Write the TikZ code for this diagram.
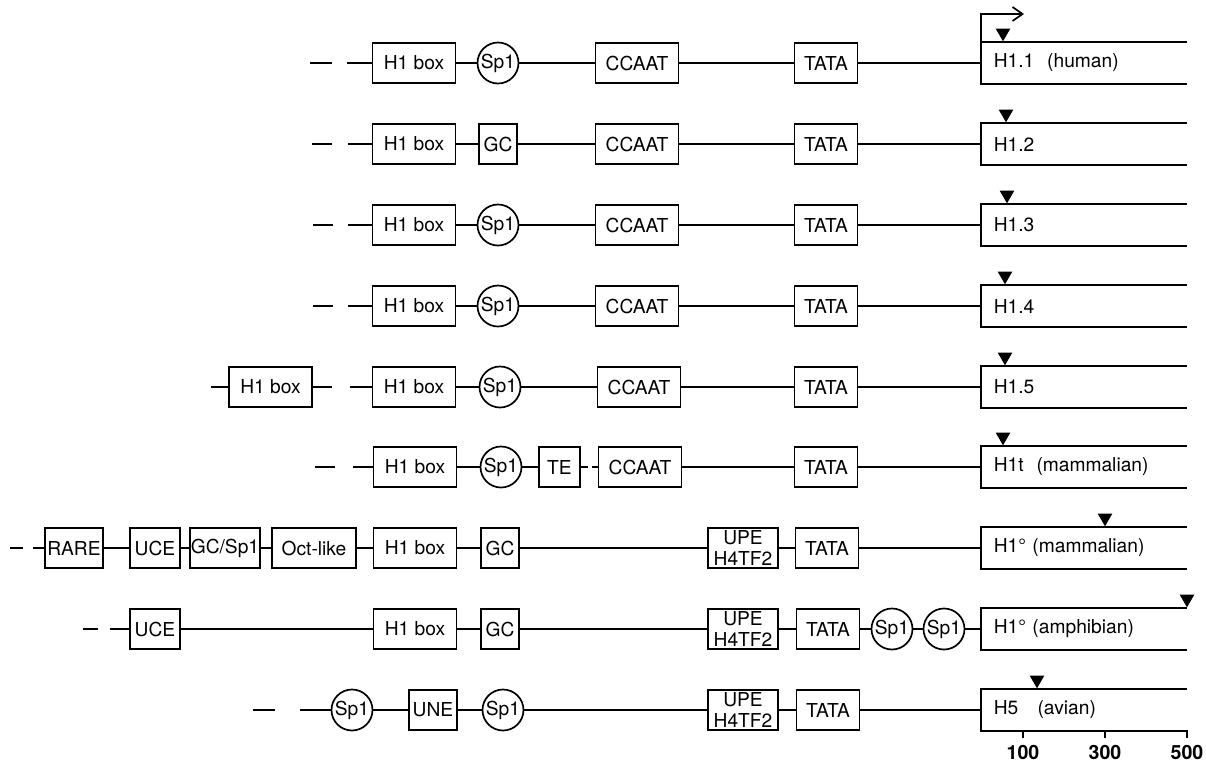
\documentclass[tikz,border=0pt]{standalone}
\usepackage{fontspec}
\setmainfont{TeX Gyre Heros}
\usetikzlibrary{arrows.meta}
\usetikzlibrary{shapes.geometric}

\begin{document}
\begin{tikzpicture}[x=0.5pt,y=-0.5pt,line width=0.85pt,font=\fontsize{9.6}{10.6}\selectfont]
  \tikzstyle{elem}=[draw,minimum height=20pt,inner sep=1pt,align=center]
  \tikzstyle{wide}=[elem,minimum width=41.5pt]
  \tikzstyle{tata}=[elem,minimum width=31.5pt]
  \tikzstyle{narrow}=[elem,minimum width=19pt]
  \tikzstyle{site}=[draw,circle,minimum size=20.5pt,inner sep=0pt]
  \tikzstyle{gene}=[anchor=west,minimum height=20pt,text width=90pt,inner xsep=6pt,align=left]
  \tikzstyle{startmark}=[fill,regular polygon,regular polygon sides=3,shape border rotate=180,minimum size=8.4pt,inner sep=0pt,anchor=corner 1]
  \tikzstyle{num}=[below,inner sep=3pt,font=\fontsize{9.8}{11}\selectfont\bfseries]
  \useasboundingbox (0,0) rectangle (1206,761);

  % H1.1
  \coordinate (d1a) at (310,63); \coordinate (d1b) at (332,63); \coordinate (d1c) at (347,63);
  \node[wide] (h1) at (414,63) {H1 box};
  \node[site] (sp1) at (498,63) {Sp1};
  \node[wide] (cc1) at (637,63) {CCAAT};
  \node[tata] (ta1) at (826,63) {TATA};
  \node[gene] (g1) at (981,63) {H1.1\ \ (human)};
  \draw (d1a) -- (d1b) (d1c) -- (h1) -- (sp1) -- (cc1) -- (ta1) -- (g1);

  % H1.2
  \coordinate (d2a) at (312,144); \coordinate (d2b) at (332,144); \coordinate (d2c) at (348,144);
  \node[wide] (h2) at (414,144) {H1 box};
  \node[narrow] (gc2) at (498,144) {GC};
  \node[wide] (cc2) at (637,144) {CCAAT};
  \node[tata] (ta2) at (826,144) {TATA};
  \node[gene] (g2) at (981,144) {H1.2};
  \draw (d2a) -- (d2b) (d2c) -- (h2) -- (gc2) -- (cc2) -- (ta2) -- (g2);

  % H1.3
  \coordinate (d3a) at (313,225); \coordinate (d3b) at (333,225); \coordinate (d3c) at (348,225);
  \node[wide] (h3) at (414,225) {H1 box};
  \node[site] (sp3) at (498,225) {Sp1};
  \node[wide] (cc3) at (637,225) {CCAAT};
  \node[tata] (ta3) at (826,225) {TATA};
  \node[gene] (g3) at (981,225) {H1.3};
  \draw (d3a) -- (d3b) (d3c) -- (h3) -- (sp3) -- (cc3) -- (ta3) -- (g3);

  % H1.4
  \coordinate (d4a) at (313,306); \coordinate (d4b) at (333,306); \coordinate (d4c) at (348,306);
  \node[wide] (h4) at (414,306) {H1 box};
  \node[site] (sp4) at (498,306) {Sp1};
  \node[wide] (cc4) at (637,306) {CCAAT};
  \node[tata] (ta4) at (826,306) {TATA};
  \node[gene] (g4) at (981,306) {H1.4};
  \draw (d4a) -- (d4b) (d4c) -- (h4) -- (sp4) -- (cc4) -- (ta4) -- (g4);

  % H1.5
  \coordinate (d5a) at (211,387); \coordinate (d5b) at (332,387); \coordinate (d5c) at (350,387);
  \node[wide] (h5x) at (270.5,387) {H1 box};
  \node[wide] (h5) at (414,387) {H1 box};
  \node[site] (sp5) at (500,387) {Sp1};
  \node[wide] (cc5) at (639,387) {CCAAT};
  \node[tata] (ta5) at (826,387) {TATA};
  \node[gene] (g5) at (981,387) {H1.5};
  \draw (d5a) -- (h5x) -- (d5b) (d5c) -- (h5) -- (sp5) -- (cc5) -- (ta5) -- (g5);

  % H1t
  \coordinate (d6a) at (315,467); \coordinate (d6b) at (335,467); \coordinate (d6c) at (353,467);
  \node[wide] (h6) at (415,467) {H1 box};
  \node[site] (sp6) at (501,467) {Sp1};
  \node[elem,minimum width=20.5pt] (te6) at (559.5,467) {TE};
  \node[wide] (cc6) at (640,467) {CCAAT};
  \node[tata] (ta6) at (826,467) {TATA};
  \node[gene] (g6) at (981,467) {H1t\ \ (mammalian)};
  \draw (d6a) -- (d6b) (d6c) -- (h6) -- (sp6) -- (te6) (cc6) -- (ta6) -- (g6);
  \draw[dash pattern=on 3.5pt off 2pt] (te6) -- (cc6);

  % H1 zero, mammalian
  \coordinate (d7a) at (10,548); \coordinate (d7b) at (23,548); \coordinate (d7c) at (33,548);
  \node[elem,minimum width=29pt] (ra7) at (74,548) {RARE};
  \node[elem,minimum width=25pt] (uc7) at (155,548) {UCE};
  \node[elem,minimum width=34pt,inner xsep=0.5pt] (gs7) at (225,548) {GC/Sp1};
  \node[elem,minimum width=42pt] (oc7) at (314,548) {Oct-like};
  \node[wide] (h7) at (415,548) {H1 box};
  \node[narrow] (gc7) at (500,548) {GC};
  \node[elem,minimum width=35pt] (up7) at (743,548) {UPE\\H4TF2};
  \node[tata] (ta7) at (827,548) {TATA};
  \node[gene] (g7) at (981,548) {H1° (mammalian)};
  \draw (d7a) -- (d7b) (d7c) -- (ra7) -- (uc7) -- (gs7) -- (oc7) -- (h7) -- (gc7) -- (up7) -- (ta7) -- (g7);

  % H1 zero, amphibian
  \coordinate (d8a) at (83,629); \coordinate (d8b) at (98,629); \coordinate (d8c) at (110,629);
  \node[elem,minimum width=25pt] (uc8) at (155,629) {UCE};
  \node[wide] (h8) at (415,629) {H1 box};
  \node[narrow] (gc8) at (500,629) {GC};
  \node[elem,minimum width=35pt] (up8) at (743,629) {UPE\\H4TF2};
  \node[tata] (ta8) at (828,629) {TATA};
  \node[site] (sp8a) at (892,629) {Sp1};
  \node[site] (sp8b) at (944,629) {Sp1};
  \node[gene] (g8) at (981,629) {H1° (amphibian)};
  \draw (d8a) -- (d8b) (d8c) -- (uc8) -- (h8) -- (gc8) -- (up8) -- (ta8) -- (sp8a) -- (sp8b) -- (g8);

  % H5
  \coordinate (d9a) at (253,710); \coordinate (d9b) at (275,710); \coordinate (d9c) at (300,710);
  \node[site] (sp9a) at (352,710) {Sp1};
  \node[elem,minimum width=24pt] (un9) at (433,710) {UNE};
  \node[site] (sp9b) at (503,710) {Sp1};
  \node[elem,minimum width=35pt] (up9) at (743,710) {UPE\\H4TF2};
  \node[tata] (ta9) at (828,710) {TATA};
  \node[gene] (g9) at (981,710) {H5\quad(avian)};
  \draw (d9a) -- (d9b) (d9c) -- (sp9a) -- (un9) -- (sp9b) -- (up9) -- (ta9) -- (g9);

  % gene bodies and start sites
  \foreach \i in {1,...,9}
    \draw (g\i.north east) -- (g\i.north west) -- (g\i.south west) -- (g\i.south east);
  \foreach \i/\x/\y in {1/1003/43,2/1006/124,3/1007/205,4/1005/286,5/1005/367,6/1003/447,7/1105/528,8/1187/609,9/1037/690}
    \node[startmark] (m\i) at (\x,\y) {};
  \coordinate (tss) at (1024,14);
  \draw[-{Straight Barb[length=5pt,width=7pt]}] (g1.north west) |- (tss);

  % scale
  \foreach \x/\t in {1023/100,1105/300,1187/500}
    \draw (\x,730) -- (\x,738) node[num] (t\t) {\t};
\end{tikzpicture}
\end{document}
